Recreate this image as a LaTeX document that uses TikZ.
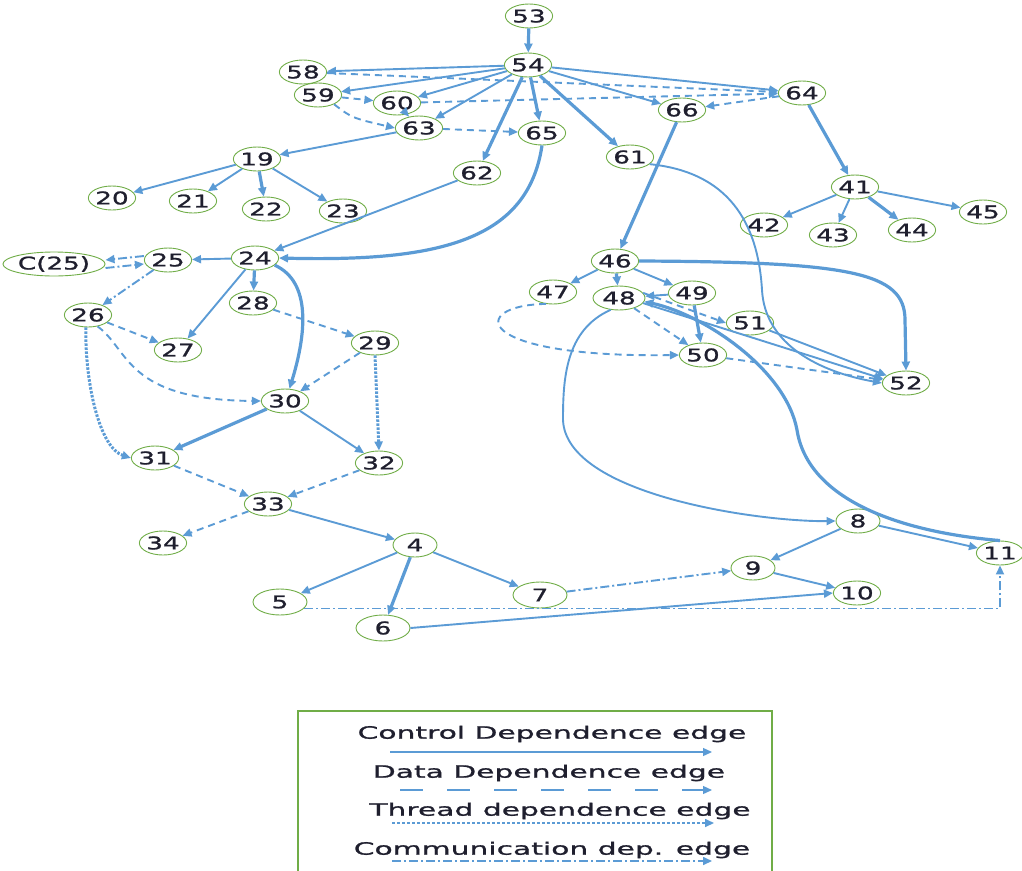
\documentclass[tikz,border=0pt]{standalone}
\usepackage{fontspec}
\setmainfont{DejaVu Sans}
\newfontfamily\numfont[FakeStretch=1.5,FakeBold=1.2]{DejaVu Sans}
\newfontfamily\legfont[FakeStretch=1.75,FakeBold=1.2]{DejaVu Sans}
\usetikzlibrary{arrows.meta,shapes.geometric,calc}
\definecolor{edgeblue}{HTML}{5B9BD5}
\definecolor{nodegreen}{HTML}{70AD47}
\definecolor{labelink}{HTML}{1F1F2E}
\begin{document}
\begin{tikzpicture}[x=1pt,y=-1pt,
  v/.style={ellipse,draw=nodegreen,line width=0.9pt,fill=white,minimum width=44pt,
    minimum height=24pt,inner sep=0pt,text=labelink,font=\numfont\fontsize{17.5}{17.5}\selectfont},
  tip/.style={-{Triangle[length=9pt,width=8pt]}},
  ctrl/.style={draw=edgeblue,line width=1.9pt,tip},
  ctrlb/.style={draw=edgeblue,line width=3.2pt,tip},
  data/.style={draw=edgeblue,line width=1.9pt,dash pattern=on 7pt off 5pt,tip},
  thread/.style={draw=edgeblue,line width=3pt,dash pattern=on 2.5pt off 1.5pt,tip},
  comm/.style={draw=edgeblue,line width=1.9pt,dash pattern=on 9pt off 3pt on 2pt off 3pt,tip},
  leg/.style={font=\legfont\fontsize{17}{17}\selectfont,text=labelink,inner sep=0pt}]
\useasboundingbox (0,0) rectangle (1022,870);

% ---- nodes ----
\node[v] (n53) at (529,16) {53};
\node[v] (n54) at (528,65) {54};
\node[v] (n58) at (303,72) {58};
\node[v] (n59) at (318,95) {59};
\node[v] (n60) at (397,103) {60};
\node[v] (n63) at (419,128) {63};
\node[v] (n65) at (542,133) {65};
\node[v] (n66) at (682,110) {66};
\node[v] (n64) at (802,93) {64};
\node[v] (n61) at (630,157) {61};
\node[v] (n62) at (477,173) {62};
\node[v] (n19) at (257,159) {19};
\node[v] (n20) at (112,198) {20};
\node[v] (n21) at (193,201) {21};
\node[v] (n22) at (266,209) {22};
\node[v] (n23) at (343,211) {23};
\node[v] (n24) at (255,258) {24};
\node[v] (n25) at (168,260) {25};
\node[v,minimum width=62pt] (nc25) at (54,264) {C(25)};
\node[v] (n26) at (88,315) {26};
\node[v] (n27) at (178,350) {27};
\node[v] (n28) at (253,303) {28};
\node[v] (n29) at (375,343) {29};
\node[v] (n30) at (285,401) {30};
\node[v] (n31) at (155,458) {31};
\node[v] (n32) at (379,463) {32};
\node[v] (n33) at (268,504) {33};
\node[v] (n34) at (163,543) {34};
\node[v] (n4) at (415,545) {4};
\node[v,minimum width=54pt,minimum height=26pt] (n5) at (280,602) {5};
\node[v,minimum width=54pt,minimum height=26pt] (n6) at (383,628) {6};
\node[v,minimum width=54pt,minimum height=26pt] (n7) at (540,595) {7};
\node[v] (n9) at (753,568) {9};
\node[v] (n10) at (857,593) {10};
\node[v] (n8) at (858,521) {8};
\node[v] (n11) at (1000,553) {11};
\node[v] (n41) at (855,187) {41};
\node[v] (n42) at (764,225) {42};
\node[v] (n43) at (833,235) {43};
\node[v] (n44) at (912,230) {44};
\node[v] (n45) at (983,212) {45};
\node[v] (n46) at (615,261) {46};
\node[v] (n47) at (553,292) {47};
\node[v,minimum width=52pt] (n48) at (619,298) {48};
\node[v] (n49) at (692,293) {49};
\node[v] (n51) at (750,323) {51};
\node[v] (n50) at (703,355) {50};
\node[v] (n52) at (906,383) {52};

% ---- top cluster ----
\draw[ctrlb] (n53) -- (n54);
\draw[ctrl] (n54) -- (n58);
\draw[ctrl] (n54) -- (n59);
\draw[ctrl] (n54) -- (n60);
\draw[ctrl] (n54) -- (n63);
\draw[ctrlb] (n54) -- (n62);
\draw[ctrlb] (n54) -- (n65);
\draw[ctrlb] (n54) -- (n61);
\draw[ctrl] (n54) -- (n66);
\draw[ctrl] (n54) -- (n64);
\draw[data] (n58) -- (n64);
\draw[data] (n60) -- (n64);
\draw[data] (n64) -- (n66);
\draw[data] (n59) -- (n60);
\draw[data] (n59.-30) .. controls (352,118) .. (n63.west);
\draw[data] (n60) -- (n63);
\draw[data] (n63) -- (n65);
\draw[ctrl] (n63) -- (n19);
\draw[ctrl] (n19) -- (n20);
\draw[ctrl] (n19) -- (n21);
\draw[ctrlb] (n19) -- (n22);
\draw[ctrl] (n19) -- (n23);
\draw[ctrl] (n62) -- (n24);
\draw[ctrlb] (n65.south) .. controls (528,240) and (440,262) .. (n24.east);
\draw[ctrl] (n61.-20) .. controls (728,172) and (758,222) .. (762,290)
  .. controls (765,345) and (820,372) .. (n52.west);
\draw[ctrlb] (n66) -- (n46);
\draw[ctrlb] (n64) -- (n41);
\draw[ctrl] (n41) -- (n42);
\draw[ctrl] (n41) -- (n43);
\draw[ctrlb] (n41) -- (n44);
\draw[ctrl] (n41) -- (n45);

% ---- left cluster ----
\draw[ctrl] (n24) -- (n25);
\draw[comm] ([yshift=4pt]n25.west) -- ([yshift=4pt]nc25.east);
\draw[comm] ([yshift=-4pt]nc25.east) -- ([yshift=-4pt]n25.west);
\draw[comm] (n25) -- (n26);
\draw[data] (n26) -- (n27);
\draw[ctrl] (n24) -- (n27);
\draw[ctrlb] (n24) -- (n28);
\draw[ctrlb] (n24.-20) .. controls (312,282) and (306,335) .. (n30.70);
\draw[data] (n28) -- (n29);
\draw[data] (n29) -- (n30);
\draw[data] (n26.-50) .. controls (130,350) and (125,400) .. (n30.west);
\draw[thread] (n26.-100) .. controls (85,385) and (100,448) .. (n31.west);
\draw[thread] (n29.-90) -- (n32.north);
\draw[ctrlb] (n30) -- (n31);
\draw[ctrl] (n30) -- (n32);
\draw[data] (n31) -- (n33);
\draw[data] (n32) -- (n33);
\draw[data] (n33) -- (n34);
\draw[ctrl] (n33) -- (n4);
\draw[ctrl] (n4) -- (n5);
\draw[ctrlb] (n4) -- (n6);
\draw[ctrl] (n4) -- (n7);

% ---- bottom right ----
\draw[comm] (n7) -- (n9);
\draw[comm] (n5.-15) -- (n5.-15 -| n11.south) -- (n11.south);
\draw[ctrl] (n6.east) -- (n10.west);
\draw[ctrl] (n8) -- (n9);
\draw[ctrl] (n9) -- (n10);
\draw[ctrl] (n8) -- (n11);

% ---- right cluster ----
\draw[ctrl] (n46) -- (n47);
\draw[ctrlb] (n46) -- (n48);
\draw[ctrl] (n46) -- (n49);
\draw[ctrlb] (n46.east) .. controls (850,262) and (905,272) .. (905,320) -- (n52.north);
\draw[ctrl] (n49) -- (n48);
\draw[ctrlb] (n49) -- (n50);
\draw[data] (n48) -- (n50);
\draw[data] (n48.12) -- (n51.west);
\draw[ctrl] (n48.-12) -- (n52.170);
\draw[ctrl] (n51) -- (n52);
\draw[data] (n50) -- (n52);
\draw[data] (n47.-120) .. controls (468,305) and (470,358) .. (n50.west);
\draw[ctrl] (n48.-125) .. controls (565,330) and (563,380) .. (563,420)
  .. controls (566,495) and (760,522) .. (n8.west);
\draw[ctrlb] (n11.north) .. controls (900,532) and (808,500) .. (797,430)
  .. controls (786,370) and (705,315) .. (n48.-8);

% ---- legend ----
\draw[nodegreen,line width=1.5pt] (298,711) rectangle (772,890);
\node[leg] (lc) at (552,734) {Control Dependence edge};
\node[leg] (ld) at (549,773) {Data Dependence edge};
\node[leg] (lt) at (560,811) {Thread dependence edge};
\node[leg] (lm) at (552,850) {Communication dep. edge};
\coordinate (lc1) at (390,752); \coordinate (lc2) at (712,752);
\coordinate (ld1) at (400,790); \coordinate (ld2) at (712,790);
\coordinate (lt1) at (392,823); \coordinate (lt2) at (714,823);
\coordinate (lm1) at (392,861); \coordinate (lm2) at (712,861);
\draw[ctrl,line width=1.3pt] (lc1) -- (lc2);
\draw[data,line width=1.3pt,dash pattern=on 23pt off 24pt] (ld1) -- (ld2);
\draw[thread,line width=1.6pt,dash pattern=on 3pt off 2pt] (lt1) -- (lt2);
\draw[comm,line width=1.6pt] (lm1) -- (lm2);
\end{tikzpicture}
\end{document}
